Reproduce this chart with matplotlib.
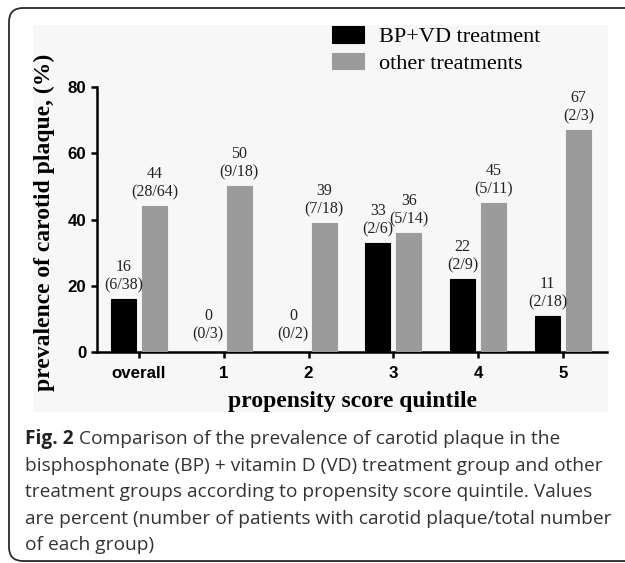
import matplotlib
matplotlib.use("Agg")
import matplotlib.pyplot as plt
import numpy as np
from matplotlib.patches import FancyBboxPatch, Rectangle
from matplotlib.transforms import IdentityTransform

# ---- data ----
categories = ["overall", "1", "2", "3", "4", "5"]
bpvd_values = [16, 0, 0, 33, 22, 11]
other_values = [44, 50, 39, 36, 45, 67]
bpvd_counts = ["(6/38)", "(0/3)", "(0/2)", "(2/6)", "(2/9)", "(2/18)"]
other_counts = ["(28/64)", "(9/18)", "(7/18)", "(5/14)", "(5/11)", "(2/3)"]
series_names = ["BP+VD treatment", "other treatments"]
y_ticks = [0, 20, 40, 60, 80]

caption_lines = [
    "Comparison of the prevalence of carotid plaque in the",
    "bisphosphonate (BP) + vitamin D (VD) treatment group and other",
    "treatment groups according to propensity score quintile. Values",
    "are percent (number of patients with carotid plaque/total number",
    "of each group)",
]

W, H = 625, 563
fig = plt.figure(figsize=(W / 100, H / 100), dpi=100)
fig.patch.set_facecolor("white")

# outer rounded frame (extends off the right edge)
frame = FancyBboxPatch((9, 2), 700, 553, boxstyle="round,pad=0,rounding_size=14",
                       transform=IdentityTransform(), facecolor="none",
                       edgecolor="#2a2a2a", linewidth=1.3)
fig.add_artist(frame)

# light chart background
bg = Rectangle((33 / W, 1 - 412 / H), (608 - 33) / W, (412 - 25) / H,
               transform=fig.transFigure, facecolor="#f7f7f7", edgecolor="none", zorder=0)
fig.add_artist(bg)

ax = fig.add_axes([97 / W, 1 - 352 / H, (607 - 97) / W, (352 - 87) / H])
ax.set_facecolor("none")

x = np.arange(len(categories))
bw = 0.296
off = 0.183
b1 = ax.bar(x - off, bpvd_values, bw, color="black", edgecolor="black",
            linewidth=0.8, joinstyle="round", label=series_names[0], zorder=3)
b2 = ax.bar(x + off, other_values, bw, color="#9b9b9b", edgecolor="#9b9b9b",
            linewidth=0.8, joinstyle="round", label=series_names[1], zorder=3)

serif = "Liberation Serif"
for xs, vals, cnts in [(x - off, bpvd_values, bpvd_counts), (x + off, other_values, other_counts)]:
    for xi, v, c in zip(xs, vals, cnts):
        ax.annotate(f"{v}\n{c}", (xi, v), xytext=(0, 4 if v > 0 else 7),
                    textcoords="offset points", ha="center", va="bottom",
                    fontsize=11.5, family=serif, color="#222222", linespacing=1.2)

ax.set_xlim(-0.495, 5.52)
ax.set_ylim(0, 80)
ax.set_yticks(y_ticks)
ax.set_xticks(x)
ax.set_xticklabels(categories)
for s in ["top", "right"]:
    ax.spines[s].set_visible(False)
for s in ["left", "bottom"]:
    ax.spines[s].set_linewidth(1.8)
ax.tick_params(axis="both", length=4, width=1.8, labelsize=12.2)
ax.tick_params(axis="y", pad=3.5)
ax.tick_params(axis="x", pad=6)
for lab in ax.get_xticklabels() + ax.get_yticklabels():
    lab.set_family("Liberation Sans")
    lab.set_fontweight("bold")

ax.set_xlabel("propensity score quintile", family=serif, fontweight="bold",
              fontsize=17, labelpad=7)
ax.set_ylabel("prevalence of carotid plaque, (%)", family=serif, fontweight="bold",
              fontsize=17)
ax.yaxis.set_label_coords(-0.082, 0.49)

fig.legend(handles=[b1, b2], labels=series_names, loc="upper left",
           bbox_to_anchor=(332 / W, 1 - 26 / H), frameon=False,
           prop={"family": serif, "size": 16}, borderpad=0, borderaxespad=0,
           handlelength=1.45, handleheight=0.77, handletextpad=0.68,
           labelspacing=0.26)

# caption
cap_x = 25 / W
line_y = [439, 466, 492, 519, 545]
cap_fs = 13.8
renderer = fig.canvas.get_renderer()
t0 = fig.text(cap_x, 1 - line_y[0] / H, "Fig. 2", family="Open Sans",
              fontweight="bold", fontsize=cap_fs, va="center", ha="left", color="#222222")
bb = t0.get_window_extent(renderer)
fig.text(bb.x1 / W + 5 / W, 1 - line_y[0] / H, caption_lines[0], family="Open Sans",
         fontsize=cap_fs, va="center", ha="left", color="#333333")
for ly, txt in zip(line_y[1:], caption_lines[1:]):
    fig.text(cap_x, 1 - ly / H, txt, family="Open Sans", fontsize=cap_fs,
             va="center", ha="left", color="#333333")

fig.savefig("out.png", dpi=100)
